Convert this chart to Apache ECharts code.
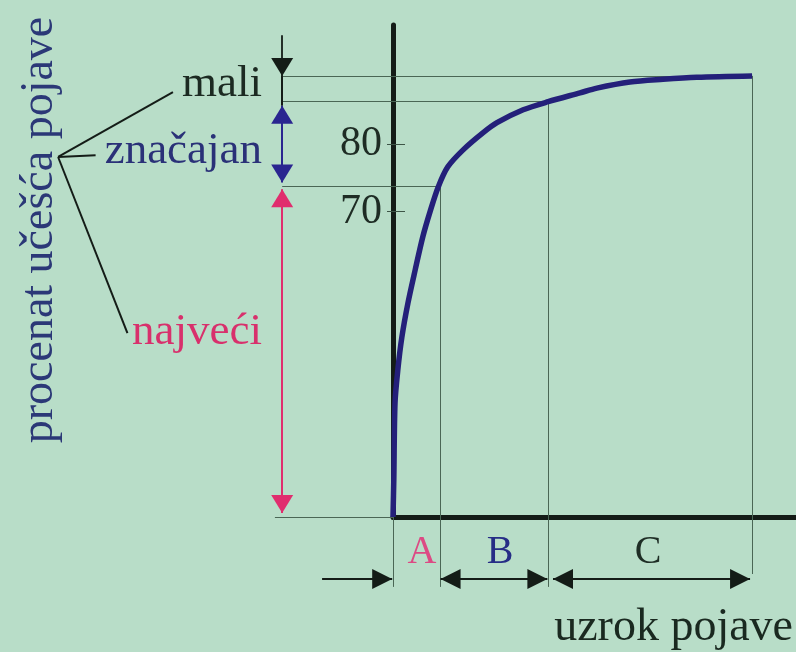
<!DOCTYPE html>
<html>
<head>
<meta charset="utf-8">
<script src="https://cdn.jsdelivr.net/npm/echarts@6/dist/echarts.min.js"></script>
<style>
  html, body { margin: 0; padding: 0; background: #b8ddc8; }
  #chart { width: 796px; height: 652px; }
</style>
</head>
<body>
<div id="chart"></div>
<script>
// Cumulative share of the effect (y, %) against the share of causes (x, %)
const curveX = [0, 0.2, 0.5, 1.2, 2.2, 3.7, 5.5, 7.4, 9.2, 11.2, 13.6, 17.4, 22.3, 25.8, 32.3, 38.5, 46.4, 50.6, 58.8, 67.0, 75.4, 89.1];
const curveY = [25, 30.5, 41.8, 46.7, 51.5, 56.5, 61.4, 66.3, 70.0, 73.6, 76.6, 79.1, 81.6, 83.1, 85.0, 86.2, 87.5, 88.2, 89.1, 89.5, 89.8, 90.0];

// Group boundaries on the cause axis (start, end of A, end of B, end of C)
const groupBounds = [0, 11.7, 38.5, 89.1];
// Effect levels reached at those boundaries
const levelBounds = [25, 73.8, 86.2, 90];
// How far the boundary drops reach below the axis
const guideDropY = [14.7, 14.7, 14.7, 16.6];

// Group labels under the axis
const groupNames = ['A', 'B', 'C'];
const groupLabelX = [7.2, 26.6, 63.3];
const groupLabelY = 19.8;
const groupColors = ['#dc4a84', '#262d86', '#1e2d25'];

// Level labels on the left
const levelNames = ['mali', 'značajan', 'najveći'];
const levelLabelY = [88.8, 78.9, 52.3];
const levelLabelX = -32.5;
const levelColors = ['#1c2a22', '#2a3178', '#d8306c'];

// Tick values shown on the effect axis
const yTicks = [70, 80];

// Annotation geometry in data units
const annotColX = -27.5;       // column of the level arrows
const baseStartX = -29.3;      // start of the base line
const arrowRowY = 15.86;       // row of the group arrows
const maliArrow = [96.0, 90.0];
const maliStem = [90.0, 85.6];
const bandArrows = [[85.6, 74.3], [73.3, 25.6]];
const bandArrowColors = ['#2a2590', '#e02d6e'];
const leadArrowX = [-17.6, -0.2];
const groupArrowsX = [[11.8, 38.3], [39.7, 88.6]];
const bracketVertex = [-83.1, 78.05];
const bracketEnds = [[-54.6, 87.6], [-73.8, 78.3], [-65.9, 52.1]];

// Arrow head whose tip sits at the symbol centre
function head(w, l) {
  return 'path://M' + (w / 2) + ',' + l + 'L' + w + ',' + (2 * l) + 'L0,' + (2 * l) + 'Z M' + (w / 2) + ',0L' + (w / 2) + ',0';
}

const serif = "'Liberation Serif', 'Times New Roman', serif";
const ink = '#141c17';
const guideColor = '#4a6655';

const guideSegments = [];
for (let i = 1; i < levelBounds.length; i++) {
  guideSegments.push({ coords: [[annotColX, levelBounds[i]], [groupBounds[i], levelBounds[i]]] });
}
guideSegments.push({ coords: [[baseStartX, levelBounds[0]], [groupBounds[0], levelBounds[0]]] });
for (let i = 0; i < groupBounds.length; i++) {
  guideSegments.push({ coords: [[groupBounds[i], levelBounds[i]], [groupBounds[i], guideDropY[i]]] });
}

const blackLines = bracketEnds.map(e => ({ coords: [bracketVertex, e] }));
blackLines.push({ coords: [[annotColX, maliStem[0]], [annotColX, maliStem[1]]] });

const textItems = [];
levelNames.forEach((n, i) => textItems.push({
  value: [levelLabelX, levelLabelY[i]],
  label: { formatter: n, color: levelColors[i], position: 'left', distance: 0, fontSize: 45, fontFamily: serif }
}));
groupNames.forEach((n, i) => textItems.push({
  value: [groupLabelX[i], groupLabelY],
  label: { formatter: n, color: groupColors[i], position: 'inside', fontSize: 40, fontFamily: serif }
}));

const chart = echarts.init(document.getElementById('chart'), null, { renderer: 'canvas' });
chart.setOption({
  backgroundColor: '#b8ddc8',
  animation: false,
  grid: { left: 393, right: 0, top: 25, bottom: 135, outerBoundsMode: 'none', containLabel: false },
  xAxis: {
    type: 'value', min: 0, max: 100,
    name: 'uzrok pojave', nameLocation: 'end', nameGap: -3,
    nameTextStyle: { fontFamily: serif, fontSize: 46, color: '#1a2920', align: 'right', verticalAlign: 'top', padding: [88, 0, 0, 0] },
    axisLine: { show: true, onZero: false, lineStyle: { color: ink, width: 5 } },
    axisTick: { show: false }, axisLabel: { show: false }, splitLine: { show: false }
  },
  yAxis: [{
    type: 'value', min: 25, max: 97.5, position: 'left',
    name: 'procenat učešća pojave', nameLocation: 'middle', nameRotate: 90, nameGap: 330,
    nameTextStyle: { fontFamily: serif, fontSize: 46, color: '#2b3877', padding: [0, 0, 0, 82] },
    axisLine: { show: true, onZero: false, lineStyle: { color: ink, width: 5 } },
    axisTick: { show: true, inside: true, length: 12, customValues: yTicks, lineStyle: { color: '#3d5547', width: 1 } },
    axisLabel: { show: true, customValues: yTicks, margin: 11, fontFamily: serif, fontSize: 42, color: '#1e2c24' },
    splitLine: { show: false }
  }, {
    type: 'value', min: 25, max: 97.5, position: 'left',
    axisLine: { show: false, onZero: false },
    axisTick: { show: true, inside: false, length: 6, customValues: yTicks, lineStyle: { color: '#3d5547', width: 1 } },
    axisLabel: { show: false }, splitLine: { show: false }
  }],
  series: [
    {
      type: 'lines', coordinateSystem: 'cartesian2d', clip: false, z: 1,
      lineStyle: { color: guideColor, width: 1, opacity: 1 },
      data: guideSegments
    },
    {
      type: 'lines', coordinateSystem: 'cartesian2d', clip: false, z: 3,
      lineStyle: { color: ink, width: 2, opacity: 1 },
      data: blackLines
    },
    {
      type: 'lines', coordinateSystem: 'cartesian2d', clip: false, z: 3,
      symbol: ['none', head(22, 18)], symbolSize: [[0, 0], [22, 36]],
      lineStyle: { color: ink, width: 1.8, opacity: 1 },
      data: [{ coords: [[annotColX, maliArrow[0]], [annotColX, maliArrow[1]]] }]
    },
    {
      type: 'lines', coordinateSystem: 'cartesian2d', clip: false, z: 3,
      symbol: [head(22, 18), head(22, 18)], symbolSize: [[22, 36], [22, 36]],
      lineStyle: { width: 2, opacity: 1 },
      data: bandArrows.map((s, i) => ({
        coords: [[annotColX, s[0]], [annotColX, s[1]]],
        lineStyle: { color: bandArrowColors[i] }
      }))
    },
    {
      type: 'lines', coordinateSystem: 'cartesian2d', clip: false, z: 3,
      symbol: ['none', head(20, 20)], symbolSize: [[0, 0], [20, 40]],
      lineStyle: { color: ink, width: 1.8, opacity: 1 },
      data: [{ coords: [[leadArrowX[0], arrowRowY], [leadArrowX[1], arrowRowY]] }]
    },
    {
      type: 'lines', coordinateSystem: 'cartesian2d', clip: false, z: 3,
      symbol: [head(20, 20), head(20, 20)], symbolSize: [[20, 40], [20, 40]],
      lineStyle: { color: ink, width: 1.8, opacity: 1 },
      data: groupArrowsX.map(s => ({ coords: [[s[0], arrowRowY], [s[1], arrowRowY]] }))
    },
    {
      type: 'line', clip: false, z: 5, smooth: 0.3, showSymbol: false, silent: true,
      lineStyle: { color: '#24207a', width: 5.5 },
      data: curveX.map((x, i) => [x, curveY[i]])
    },
    {
      type: 'scatter', clip: false, z: 6, symbolSize: 0, silent: true,
      itemStyle: { opacity: 1 },
      label: { show: true, fontFamily: serif },
      data: textItems
    }
  ]
});
</script>
</body>
</html>
